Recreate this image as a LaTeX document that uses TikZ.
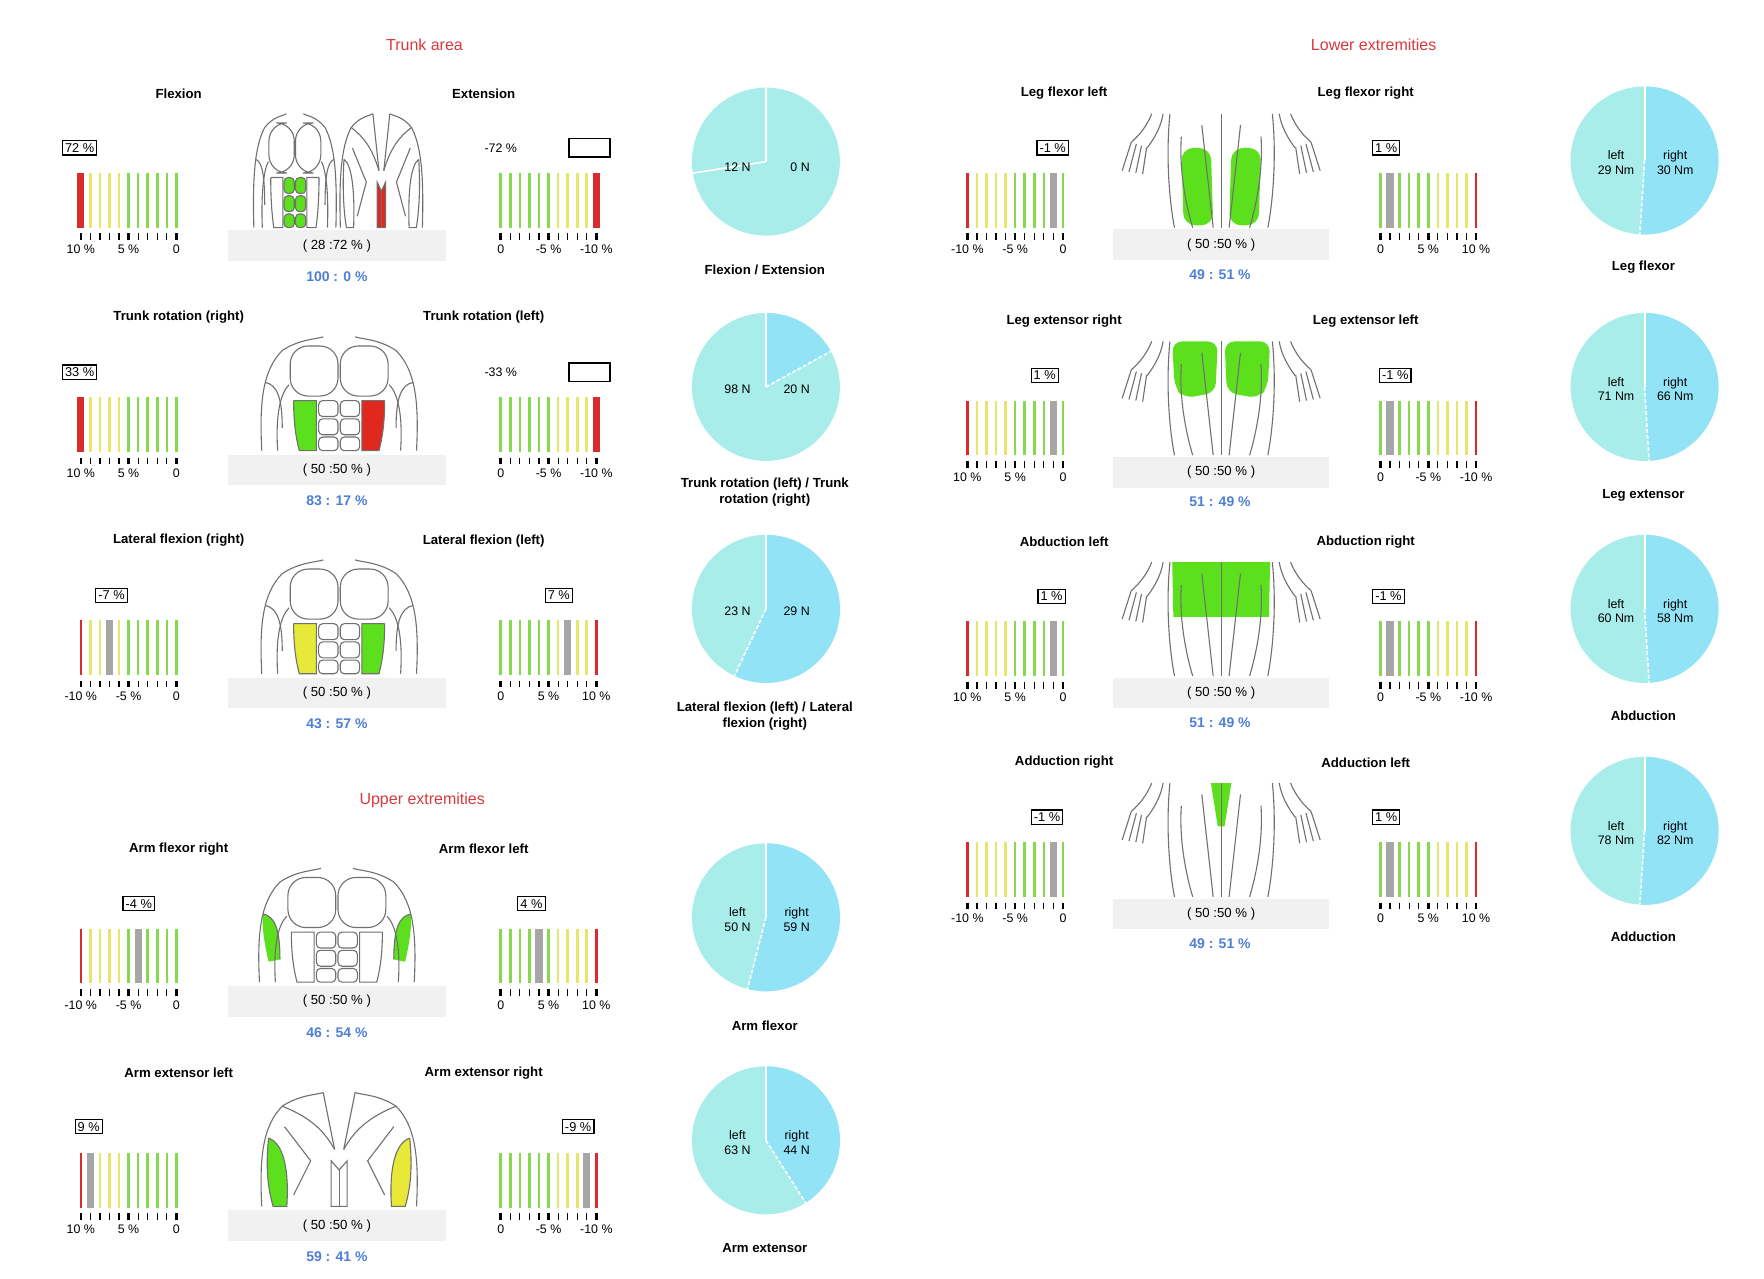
\documentclass[tikz,border=0pt]{standalone}
\usepackage{fontspec}
\setmainfont{Liberation Sans}
\definecolor{bred}{HTML}{D92B2B}
\definecolor{byel}{HTML}{E6E66A}
\definecolor{bgrn}{HTML}{86D94E}
\definecolor{bgry}{HTML}{A6A6A6}
\definecolor{tblue}{HTML}{4D7FD6}
\definecolor{tred}{HTML}{D83A3F}
\definecolor{pieL}{HTML}{A9EDEB}
\definecolor{pieR}{HTML}{93E3F7}
\definecolor{boxg}{HTML}{F1F1F1}
\definecolor{mgrn}{HTML}{5CE01E}
\definecolor{myel}{HTML}{E8E838}
\definecolor{mred}{HTML}{E0281E}
\definecolor{ol}{HTML}{707070}
\tikzset{
 ttl/.style={font=\fontsize{6.6}{8}\selectfont\bfseries, inner sep=0},
 lab/.style={font=\fontsize{6.2}{7.2}\selectfont, inner sep=0, align=center},
 sec/.style={font=\fontsize{8}{9}\selectfont, text=tred, inner sep=0},
 blu/.style={font=\fontsize{7}{8}\selectfont\bfseries, text=tblue, inner sep=0},
 vbx/.style={draw, line width=0.6pt, font=\fontsize{6.4}{7.4}\selectfont, inner sep=1.3pt},
 ebx/.style={draw, line width=0.6pt, minimum width=0.72cm, minimum height=0.32cm, inner sep=0},
 gbx/.style={fill=boxg, minimum width=3.84cm, minimum height=0.54cm, font=\fontsize{6.6}{7.6}\selectfont, inner sep=0},
 outl/.style={draw=ol, line width=0.55pt},
}
% bars: x, y0, orient(0 red-left / 1 red-right), marker
\newcommand\bars[4]{%
 \foreach \i in {0,...,10}{%
  \pgfmathtruncatemacro\k{#3==0 ? \i : 10-\i}%
  \ifnum\k=0 \def\bc{bred}\else\ifnum\k<5 \def\bc{byel}\else\def\bc{bgrn}\fi\fi
  \def\bw{1.3pt}%
  \ifnum\k=#4 \def\bw{3.6pt}\ifnum\k>0 \def\bc{bgry}\fi\fi
  \draw[\bc,line width=\bw] ({#1+\i*8.4},#2+70) -- ({#1+\i*8.4},#2+118);
  \pgfmathtruncatemacro\m{mod(\i,5)}%
  \ifnum\m=0 \def\tw{1.3pt}\else\def\tw{0.6pt}\fi
  \draw[black,line width=\tw] ({#1+\i*8.4},#2+123) -- ({#1+\i*8.4},#2+129);
 }}
\newcommand\tlab[6]{%
 \node[lab] (#1a) at (#2,#3+137) {#4};
 \node[lab] (#1b) at (#2+42,#3+137) {#5};
 \node[lab] (#1c) at (#2+84,#3+137) {#6};}
% pie: name, x, y, pctR, leftlab, rightlab
\newcommand\pie[6]{%
 \coordinate (#1) at (#2,#3);
 \fill[pieL] (#1) circle[radius=65];
 \fill[pieR] (#1) -- ++(-90:65) arc[start angle=-90, end angle={-90+3.6*#4}, radius=65] -- cycle;
 \draw[white,line width=1pt] (#1) -- ++(-90:65);
 \draw[white,line width=0.8pt,dash pattern=on 2pt off 1pt] (#1) -- ++({-90+3.6*#4}:65);
 \node[lab] (#1l) at ([shift={(-25,2)}]#1) {#5};
 \node[lab] (#1r) at ([shift={(27,2)}]#1) {#6};}
% front torso: x, y, oblL, oblR, abs, latL, latR
\newcommand\torso[7]{%
 \begin{scope}[shift={(#1,#2)}]
 \path[fill=#6] (5,40) .. controls (16,42) and (20,55) .. (20,80) -- (10,82) .. controls (6,65) and (4,50) .. (5,40);
 \path[fill=#7] (135,40) .. controls (124,42) and (120,55) .. (120,80) -- (130,82) .. controls (134,65) and (136,50) .. (135,40);
 \draw[outl] (2,100) .. controls (0,60) and (2,30) .. (20,12) .. controls (35,2) and (50,2) .. (56,0);
 \draw[outl] (138,100) .. controls (140,60) and (138,30) .. (120,12) .. controls (105,2) and (90,2) .. (84,0);
 \draw[outl] (16,100) .. controls (14,70) and (18,50) .. (26,42);
 \draw[outl] (124,100) .. controls (126,70) and (122,50) .. (114,42);
 \draw[outl] (5,40) .. controls (16,42) and (20,55) .. (20,80);
 \draw[outl] (135,40) .. controls (124,42) and (120,55) .. (120,80);
 \draw[outl,rounded corners=9] (27,8) rectangle (69,52);
 \draw[outl,rounded corners=9] (71,8) rectangle (113,52);
 \filldraw[outl,fill=#3] (30,56) -- (50,56) -- (50,100) -- (35,100) .. controls (31,85) and (30,70) .. (30,56);
 \filldraw[outl,fill=#4] (110,56) -- (90,56) -- (90,100) -- (105,100) .. controls (109,85) and (110,70) .. (110,56);
 \foreach \a/\b in {56/70,72/86,88/100}{
  \filldraw[outl,fill=#5,rounded corners=2] (52,\a) rectangle (69,\b);
  \filldraw[outl,fill=#5,rounded corners=2] (71,\a) rectangle (88,\b);}
 \end{scope}}
% back torso: x, y, latL, latR, spine
\newcommand\back[5]{%
 \begin{scope}[shift={(#1,#2)}]
 \draw[outl] (2,100) .. controls (0,60) and (2,30) .. (20,12) .. controls (35,2) and (50,2) .. (56,0);
 \draw[outl] (138,100) .. controls (140,60) and (138,30) .. (120,12) .. controls (105,2) and (90,2) .. (84,0);
 \draw[outl] (56,0) -- (66,50) (84,0) -- (74,50);
 \draw[outl] (20,12) .. controls (40,20) and (55,30) .. (66,50);
 \draw[outl] (120,12) .. controls (100,20) and (85,30) .. (74,50);
 \draw[outl] (22,30) -- (45,60) -- (30,90) (118,30) -- (95,60) -- (110,90);
 \filldraw[outl,fill=#3] (8,40) .. controls (22,45) and (26,70) .. (24,100) -- (12,100) .. controls (6,80) and (6,60) .. (8,40);
 \filldraw[outl,fill=#4] (132,40) .. controls (118,45) and (114,70) .. (116,100) -- (128,100) .. controls (134,80) and (134,60) .. (132,40);
 \filldraw[outl,fill=#5] (63,60) -- (70,68) -- (77,60) -- (77,100) -- (63,100) -- cycle;
 \draw[outl] (70,68) -- (70,100);
 \end{scope}}
% legs: x, y, mode
\newcommand\legs[3]{%
 \begin{scope}[shift={(#1,#2)}]
 \ifcase#3\or
  \fill[mgrn,rounded corners=6] (60,30) -- (86,30) -- (88,98) -- (62,98) -- cycle;
  \fill[mgrn,rounded corners=6] (104,30) -- (130,30) -- (128,98) -- (102,98) -- cycle;
 \or
  \fill[mgrn,rounded corners=5] (52,0) -- (92,0) -- (90,45) -- (62,50) -- (54,40) -- cycle;
  \fill[mgrn,rounded corners=5] (98,0) -- (138,0) -- (136,40) -- (128,50) -- (100,45) -- cycle;
 \or
  \fill[mgrn] (52,0) -- (138,0) -- (137,48) -- (53,48) -- cycle;
 \or
  \fill[mgrn] (86,0) -- (104,0) -- (98,38) -- (92,38) -- cycle;
 \fi
 \draw[outl] (50,0) .. controls (46,40) and (50,80) .. (54,100);
 \draw[outl] (140,0) .. controls (144,40) and (140,80) .. (136,100);
 \draw[outl] (95,0) -- (95,100);
 \draw[outl] (60,20) .. controls (58,50) and (64,80) .. (70,100) (130,20) .. controls (132,50) and (126,80) .. (120,100);
 \draw[outl] (78,10) -- (88,100) (112,10) -- (102,100);
 \draw[outl] (34,0) .. controls (30,10) and (24,18) .. (16,25) (44,0) .. controls (42,12) and (36,22) .. (30,30);
 \foreach \f in {0,5,10,15}{\draw[outl] (16+\f*0.9,25+\f*0.3) -- (8+\f*1.2,50+\f*0.2);}
 \draw[outl] (156,0) .. controls (160,10) and (166,18) .. (174,25) (146,0) .. controls (148,12) and (154,22) .. (160,30);
 \foreach \f in {0,5,10,15}{\draw[outl] (174-\f*0.9,25+\f*0.3) -- (182-\f*1.2,50+\f*0.2);}
 \end{scope}}
\begin{document}
\begin{tikzpicture}[x=0.02cm,y=-0.02cm]
\useasboundingbox[fill=white] (0,0) rectangle (1550,1123);
% section titles
\node[sec] (s1) at (373,39) {Trunk area};
\node[sec] (s2) at (1207,39) {Lower extremities};
\node[sec] (s3) at (371,703) {Upper extremities};

% ---------- trunk row 1
\node[ttl] (a1) at (157,82) {Flexion};
\node[ttl] (a2) at (425,82) {Extension};
\node[vbx] (a3) at (70,130) {72 \%};
\bars{71}{82}{0}{0} \tlab{a4}{71}{82}{10 \%}{5 \%}{0}
\node[lab] (a5) at (440,130) {-72 \%};
\node[ebx] (a6) at (518,130) {};
\bars{440}{82}{1}{0} \tlab{a7}{440}{82}{0}{-5 \%}{-10 \%}
\begin{scope}[shift={(222,100)},xscale=0.53]
 \torso{0}{0}{none}{none}{mgrn}{none}{none}
\end{scope}
\begin{scope}[shift={(298,100)},xscale=0.53]
 \back{0}{0}{none}{none}{mred}
\end{scope}
\node[gbx] (a8) at (296,216) {( 28 :72 \% )};
\node[blu] (a9) at (296,243) {100 : 0 \%};
\coordinate (p1) at (673,142);
\fill[pieL] (p1) circle[radius=65];
\draw[white,line width=1pt] (p1) -- ++(-90:65);
\draw[white,line width=0.8pt] (p1) -- ++(-189:65);
\node[lab] (p1l) at (648,147) {12 N};
\node[lab] (p1r) at (703,147) {0 N};
\node[ttl] (a10) at (672,237) {Flexion / Extension};

% ---------- trunk row 2
\node[ttl] (b1) at (157,279) {Trunk rotation (right)};
\node[ttl] (b2) at (425,279) {Trunk rotation (left)};
\node[vbx] (b3) at (70,327) {33 \%};
\bars{71}{279}{0}{0} \tlab{b4}{71}{279}{10 \%}{5 \%}{0}
\node[lab] (b5) at (440,327) {-33 \%};
\node[ebx] (b6) at (518,327) {};
\bars{440}{279}{1}{0} \tlab{b7}{440}{279}{0}{-5 \%}{-10 \%}
\torso{228}{296}{mgrn}{mred}{none}{none}{none}
\node[gbx] (b8) at (296,413) {( 50 :50 \% )};
\node[blu] (b9) at (296,440) {83 : 17 \%};
\pie{p2}{673}{340}{17}{98 N}{20 N}
\node[ttl,align=center] (b10) at (672,432) {Trunk rotation (left) / Trunk\\rotation (right)};

% ---------- trunk row 3
\node[ttl] (c1) at (157,475) {Lateral flexion (right)};
\node[ttl] (c2) at (425,475) {Lateral flexion (left)};
\node[vbx] (c3) at (98,523) {-7 \%};
\bars{71}{475}{0}{3} \tlab{c4}{71}{475}{-10 \%}{-5 \%}{0}
\node[vbx] (c5) at (491,523) {7 \%};
\bars{440}{475}{1}{3} \tlab{c7}{440}{475}{0}{5 \%}{10 \%}
\torso{228}{492}{myel}{mgrn}{none}{none}{none}
\node[gbx] (c8) at (296,609) {( 50 :50 \% )};
\node[blu] (c9) at (296,636) {43 : 57 \%};
\pie{p3}{673}{535}{57}{23 N}{29 N}
\node[ttl,align=center] (c10) at (672,629) {Lateral flexion (left) / Lateral\\flexion (right)};

% ---------- upper row 1
\node[ttl] (d1) at (157,746) {Arm flexor right};
\node[ttl] (d2) at (425,746) {Arm flexor left};
\node[vbx] (d3) at (122,794) {-4 \%};
\bars{71}{746}{0}{6} \tlab{d4}{71}{746}{-10 \%}{-5 \%}{0}
\node[vbx] (d5) at (467,794) {4 \%};
\bars{440}{746}{1}{6} \tlab{d7}{440}{746}{0}{5 \%}{10 \%}
\torso{226}{763}{none}{none}{none}{mgrn}{mgrn}
\node[gbx] (d8) at (296,880) {( 50 :50 \% )};
\node[blu] (d9) at (296,907) {46 : 54 \%};
\pie{p4}{673}{806}{54}{left\\50 N}{right\\59 N}
\node[ttl] (d10) at (672,901) {Arm flexor};

% ---------- upper row 2
\node[ttl] (e1) at (157,943) {Arm extensor left};
\node[ttl] (e2) at (425,943) {Arm extensor right};
\node[vbx] (e3) at (78,990) {9 \%};
\bars{71}{943}{0}{1} \tlab{e4}{71}{943}{10 \%}{5 \%}{0}
\node[vbx] (e5) at (508,990) {-9 \%};
\bars{440}{943}{1}{1} \tlab{e7}{440}{943}{0}{-5 \%}{-10 \%}
\back{228}{960}{mgrn}{myel}{none}
\node[gbx] (e8) at (296,1077) {( 50 :50 \% )};
\node[blu] (e9) at (296,1104) {59 : 41 \%};
\pie{p5}{673}{1002}{41}{left\\63 N}{right\\44 N}
\node[ttl] (e10) at (672,1097) {Arm extensor};

% ---------- lower rows
\newcommand\lrow[9]{%
 \node[ttl] (#1t) at (935,#2) {#3};
 \node[ttl] (#1u) at (1200,#2) {#4};
 \legs{978}{#2+18}{#5}
 \node[gbx,minimum width=3.8cm] (#1g) at (1073,#2+133) {( 50 :50 \% )};
 \node[blu] (#1b) at (1072,#2+159) {#6};
 \node[ttl] (#1p) at (1444,#2+153) {#7};
 \node[vbx] (#1x) at (#8,#2+48) {#9};}
\lrow{f}{82}{Leg flexor left}{Leg flexor right}{1}{49 : 51 \%}{Leg flexor}{925}{-1 \%}
\bars{850}{82}{0}{9} \tlab{f4}{850}{82}{-10 \%}{-5 \%}{0}
\node[vbx] (f5) at (1218,130) {1 \%};
\bars{1213}{82}{1}{9} \tlab{f7}{1213}{82}{0}{5 \%}{10 \%}
\pie{p6}{1445}{141}{51}{left\\29 Nm}{right\\30 Nm}

\lrow{g}{282}{Leg extensor right}{Leg extensor left}{2}{51 : 49 \%}{Leg extensor}{918}{1 \%}
\bars{850}{282}{0}{9} \tlab{g4}{850}{282}{10 \%}{5 \%}{0}
\node[vbx] (g5) at (1226,330) {-1 \%};
\bars{1213}{282}{1}{9} \tlab{g7}{1213}{282}{0}{-5 \%}{-10 \%}
\pie{p7}{1445}{340}{49}{left\\71 Nm}{right\\66 Nm}

\lrow{h}{476}{Abduction left}{Abduction right}{3}{51 : 49 \%}{Abduction}{924}{1 \%}
\bars{850}{476}{0}{9} \tlab{h4}{850}{476}{10 \%}{5 \%}{0}
\node[vbx] (h5) at (1220,524) {-1 \%};
\bars{1213}{476}{1}{9} \tlab{h7}{1213}{476}{0}{-5 \%}{-10 \%}
\pie{p8}{1445}{535}{49}{left\\60 Nm}{right\\58 Nm}

\lrow{k}{670}{Adduction right}{Adduction left}{4}{49 : 51 \%}{Adduction}{920}{-1 \%}
\bars{850}{670}{0}{9} \tlab{k4}{850}{670}{-10 \%}{-5 \%}{0}
\node[vbx] (k5) at (1218,718) {1 \%};
\bars{1213}{670}{1}{9} \tlab{k7}{1213}{670}{0}{5 \%}{10 \%}
\pie{p9}{1445}{730}{51}{left\\78 Nm}{right\\82 Nm}
\end{tikzpicture}
\end{document}
